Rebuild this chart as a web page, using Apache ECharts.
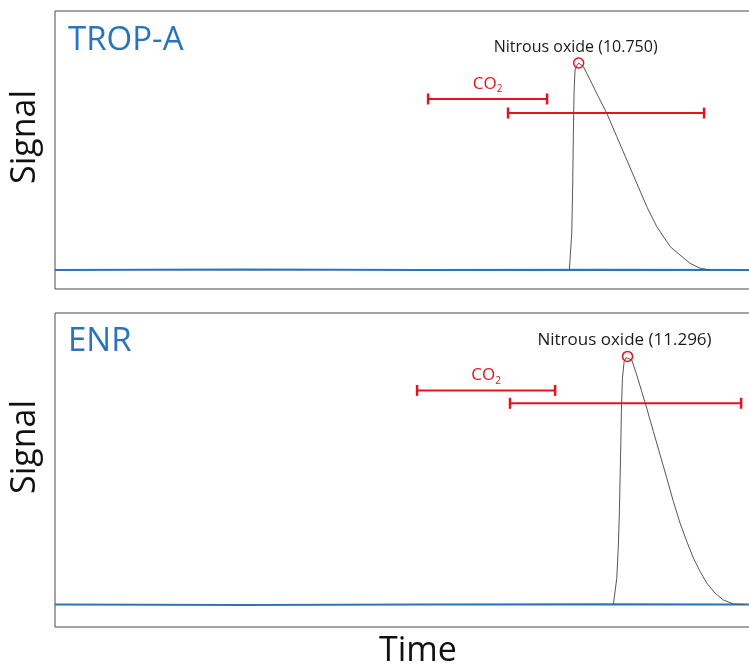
<!DOCTYPE html>
<html><head><meta charset="utf-8">
<script src="https://cdn.jsdelivr.net/npm/echarts@6/dist/echarts.min.js"></script>
<style>html,body{margin:0;padding:0;background:#fff;overflow:hidden}#c{width:762px;height:669px}</style>
</head><body><div id="c"></div>
<script>
// ---- data ----
const panelNames = ['TROP-A', 'ENR'];
const peakName = 'Nitrous oxide';
const peakRT = [10.750, 11.296];
// baseline (blue) time/signal
const baseTime = [4.9, 7.0, 9.0, 11.0, 12.72];
const baseTop = [0, 0.2, 0, 0.1, 0];
const baseBot = [0, -0.2, 0, 0.1, 0];
// chromatogram peak (gray) - top panel
const peakTopTime = [10.646, 10.673, 10.684, 10.691, 10.699, 10.710, 10.729, 10.750, 10.803, 10.878, 10.970, 11.064, 11.176, 11.288, 11.399, 11.511, 11.623, 11.772, 11.883, 11.995, 12.107, 12.218];
const peakTopSig  = [0, 17.9, 42.0, 66.2, 86.5, 96.6, 98.6, 100, 98.2, 91.8, 83.7, 75.7, 64.4, 53.1, 41.9, 30.6, 20.9, 11.3, 7.2, 3.2, 0.8, 0];
// chromatogram peak (gray) - bottom panel
const peakBotTime = [11.138, 11.176, 11.194, 11.205, 11.213, 11.221, 11.227, 11.239, 11.258, 11.280, 11.296, 11.344, 11.399, 11.455, 11.511, 11.585, 11.660, 11.735, 11.808, 11.883, 11.958, 12.032, 12.107, 12.182, 12.274, 12.367, 12.479, 12.610];
const peakBotSig  = [0, 10.6, 24.0, 37.4, 50.9, 64.3, 77.7, 91.2, 97.9, 99.5, 100, 98.5, 92.5, 85.8, 79.1, 69.7, 60.3, 50.9, 41.5, 32.8, 25.4, 18.7, 13.3, 8.6, 4.6, 1.8, 0.2, 0];
// retention windows (red bars): [start, end, level]
const co2WinTop = [9.068, 10.397, 82.6];
const n2oWinTop = [9.961, 12.151, 75.8];
const co2WinBot = [8.945, 10.487, 86.3];
const n2oWinBot = [9.983, 12.565, 81.1];

const RED = '#e0151f', BLUE = '#2e75b6', TBLUE = '#2a74b9';
const FONT = '"Open Sans", "Noto Sans", sans-serif';

function zip(a, b) { return a.map((v, i) => [v, b[i]]); }

function barSeries(win, idx) {
  return {
    type: 'line', xAxisIndex: idx, yAxisIndex: idx, z: 5,
    data: [[win[0], win[2]], [win[1], win[2]]],
    symbol: 'rect', symbolSize: [2.5, 11], showSymbol: true,
    itemStyle: { color: RED, opacity: 1 }, lineStyle: { color: RED, width: 2 },
    silent: true
  };
}
function co2Label(win, idx) {
  return {
    type: 'scatter', xAxisIndex: idx, yAxisIndex: idx, z: 6,
    data: [[(win[0] + win[1]) / 2, win[2]]], symbolSize: 1,
    itemStyle: { color: 'rgba(0,0,0,0)', opacity: 1 },
    label: {
      show: true, position: 'top', distance: 4, opacity: 1,
      formatter: '{a|CO}{b|2}',
      rich: {
        a: { fontSize: 17, color: RED, fontFamily: FONT },
        b: { fontSize: 10, color: RED, fontFamily: FONT, padding: [11, 0, 0, 0] }
      }
    }
  };
}
function peakMarker(rt, idx, fs) {
  return {
    type: 'scatter', xAxisIndex: idx, yAxisIndex: idx, z: 7,
    data: [[rt, 100]], symbol: 'circle', symbolSize: 10,
    itemStyle: { color: 'rgba(255,255,255,0)', borderColor: RED, borderWidth: 1.5, opacity: 1 },
    label: {
      show: true, position: 'top', distance: 2, offset: [-3, 0], opacity: 1,
      formatter: peakName + ' (' + rt.toFixed(3) + ')',
      fontSize: fs, color: '#1a1a1a', fontFamily: FONT
    }
  };
}

const grids = [
  { left: 55, top: 11, width: 700, height: 278, show: true, borderColor: '#4a4a4a', borderWidth: 1 },
  { left: 55, top: 313, width: 700, height: 314, show: true, borderColor: '#4a4a4a', borderWidth: 1 }
];
const axisX = (i) => ({ type: 'value', gridIndex: i, min: 4.9, max: 12.72, axisLine: { show: false }, axisTick: { show: false }, axisLabel: { show: false }, splitLine: { show: false } });
const axisY = (i, mn, mx) => ({ type: 'value', gridIndex: i, min: mn, max: mx, axisLine: { show: false }, axisTick: { show: false }, axisLabel: { show: false }, splitLine: { show: false } });

const option = {
  animation: false,
  backgroundColor: '#fff',
  grid: grids,
  xAxis: [axisX(0), axisX(1)],
  yAxis: [axisY(0, -9.2, 125.1), axisY(1, -9.07, 117.5)],
  title: [
    { text: panelNames[0], left: 63, top: 19, textStyle: { fontSize: 33, fontWeight: 'normal', color: TBLUE, fontFamily: FONT } },
    { text: panelNames[1], left: 63, top: 320, textStyle: { fontSize: 33, fontWeight: 'normal', color: TBLUE, fontFamily: FONT } }
  ],
  graphic: [
    { type: 'text', x: 25, y: 137, rotation: Math.PI / 2, style: { text: 'Signal', font: '34px ' + FONT, fill: '#111', align: 'center', verticalAlign: 'middle' } },
    { type: 'text', x: 25, y: 447, rotation: Math.PI / 2, style: { text: 'Signal', font: '34px ' + FONT, fill: '#111', align: 'center', verticalAlign: 'middle' } },
    { type: 'text', x: 418, y: 651, style: { text: 'Time', font: '34px ' + FONT, fill: '#111', align: 'center', verticalAlign: 'middle' } }
  ],
  series: [
    { type: 'line', xAxisIndex: 0, yAxisIndex: 0, data: zip(baseTime, baseTop), symbol: 'none', lineStyle: { color: BLUE, width: 2 }, z: 2 },
    { type: 'line', xAxisIndex: 0, yAxisIndex: 0, data: zip(peakTopTime, peakTopSig), symbol: 'none', smooth: false, lineStyle: { color: '#555', width: 1 }, z: 3 },
    barSeries(co2WinTop, 0), barSeries(n2oWinTop, 0), co2Label(co2WinTop, 0), peakMarker(peakRT[0], 0, 16),
    { type: 'line', xAxisIndex: 1, yAxisIndex: 1, data: zip(baseTime, baseBot), symbol: 'none', lineStyle: { color: BLUE, width: 2 }, z: 2 },
    { type: 'line', xAxisIndex: 1, yAxisIndex: 1, data: zip(peakBotTime, peakBotSig), symbol: 'none', smooth: false, lineStyle: { color: '#555', width: 1 }, z: 3 },
    barSeries(co2WinBot, 1), barSeries(n2oWinBot, 1), co2Label(co2WinBot, 1), peakMarker(peakRT[1], 1, 17)
  ]
};
const chart = echarts.init(document.getElementById('c'), null, { renderer: 'canvas' });
chart.setOption(option);
</script></body></html>
